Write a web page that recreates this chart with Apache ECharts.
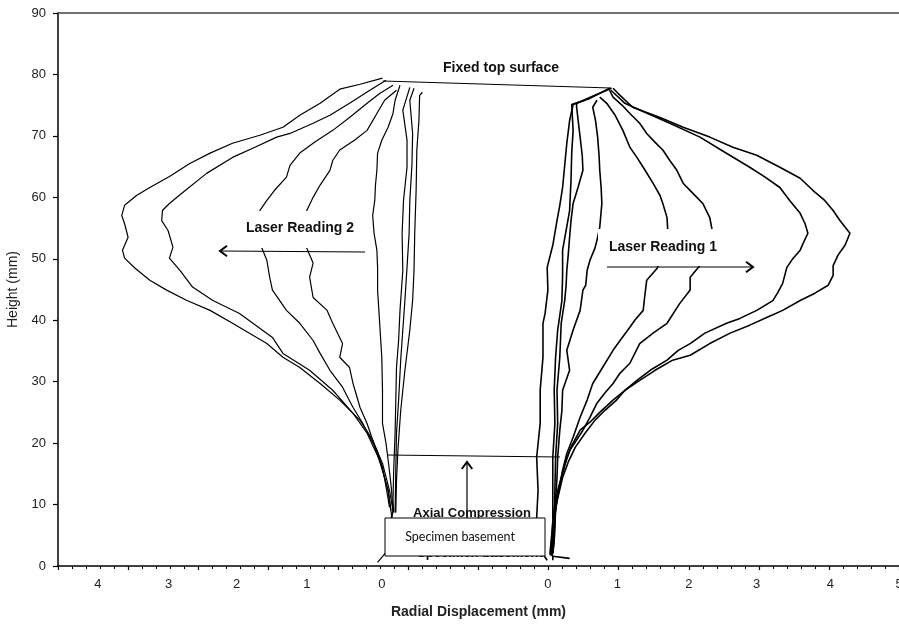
<!DOCTYPE html>
<html>
<head>
<meta charset="utf-8">
<script src="https://cdn.jsdelivr.net/npm/echarts@6/dist/echarts.min.js"></script>
<style>html,body{margin:0;padding:0;background:#fff}#chart{width:899px;height:626px}</style>
</head>
<body>
<div id="chart"></div>
<script>
// ---- Data: [radial displacement (mm), height (mm)] ----
// Laser Reading 2 (left side, displacement grows to the left)
const reading2Curve1 = [[-0.01,79.4],[0.31,78.4],[0.6,77.6],[0.88,75.3],[1.17,73.35],[1.41,71.4],[1.74,70.1],[2.13,68.8],[2.45,67.2],[2.74,65.5],[3.03,63.4],[3.31,61.6],[3.5,60.3],[3.67,58.7],[3.71,57.05],[3.67,55.7],[3.62,53.5],[3.7,51.4],[3.67,50.1],[3.52,48.45],[3.31,46.5],[3.07,44.9],[2.78,43.2],[2.45,41.6],[2.13,39.5],[1.64,36.2],[1.41,33.97],[1.17,32.3],[0.88,29.7],[0.6,27.0],[0.31,23.7],[0.13,20.5],[-0.01,16.7],[-0.11,12.3],[-0.16,9.06],[-0.14,7.4]];
const reading2Curve2 = [[-0.06,79.05],[0.17,77.43],[0.46,75.3],[0.74,73.35],[0.98,72.05],[1.31,70.4],[1.5,69.8],[1.81,68.15],[2.13,66.5],[2.5,63.9],[2.84,60.8],[3.03,59.0],[3.13,57.85],[3.14,56.2],[3.05,54.6],[2.98,51.9],[3.03,50.1],[2.88,48.1],[2.7,45.4],[2.41,43.2],[2.03,41.1],[1.56,37.2],[1.41,34.6],[1.03,31.85],[0.7,28.6],[0.41,24.85],[0.21,21.6],[0.03,17.2],[-0.09,12.3],[-0.14,8.25],[-0.06,2.2],[0.06,0.6]];
const reading2Curve3 = [[-0.16,78.24],[0.03,76.9],[0.21,75.3],[0.46,73.0],[0.7,70.9],[0.96,68.95],[1.17,67.2],[1.31,65.2],[1.36,63.3],[1.53,61.15],[1.64,59.5],[1.74,57.85],[1.77,54.9],[1.71,51.7],[1.64,49.75],[1.6,47.0],[1.56,44.9],[1.36,41.6],[1.17,39.5],[0.98,36.7],[0.88,34.6],[0.74,31.85],[0.56,29.1],[0.41,25.8],[0.27,23.2],[0.17,20.95],[0.07,18.8],[-0.01,16.1],[-0.07,12.3],[-0.11,9.55]];
const reading2Curve4 = [[-0.21,77.43],[-0.04,75.8],[0.07,73.65],[0.21,70.9],[0.39,69.3],[0.6,67.7],[0.7,66.0],[0.74,64.4],[0.88,62.0],[0.98,60.0],[1.07,57.85],[1.1,54.6],[1.07,51.7],[0.98,49.3],[1.03,47.0],[0.98,43.7],[0.78,41.6],[0.7,39.5],[0.56,36.2],[0.6,33.97],[0.46,32.3],[0.41,29.7],[0.31,25.8],[0.21,23.2],[0.13,20.5],[0.06,18.0],[-0.01,15.6],[-0.09,12.3],[-0.13,9.06]];
const reading2Curve5 = [[-0.26,78.24],[-0.19,75.8],[-0.16,73.65],[-0.09,71.4],[0.0,69.3],[0.06,67.2],[0.07,64.4],[0.09,62.0],[0.1,59.5],[0.13,57.05],[0.11,54.15],[0.07,51.4],[0.06,48.6],[0.06,44.9],[0.03,39.5],[0.0,33.97],[-0.01,28.6],[-0.01,23.2],[-0.06,20.0],[-0.1,16.4],[-0.14,12.3],[-0.16,8.7]];
const reading2Curve6 = [[-0.4,77.9],[-0.3,74.2],[-0.36,69.3],[-0.36,64.9],[-0.31,59.5],[-0.29,54.15],[-0.3,48.1],[-0.26,41.6],[-0.24,36.7],[-0.21,32.3],[-0.2,27.0],[-0.19,21.6],[-0.17,15.6],[-0.16,10.7],[-0.17,8.7]];
const reading2Curve7 = [[-0.46,77.75],[-0.4,75.8],[-0.44,70.4],[-0.43,65.2],[-0.4,59.5],[-0.39,54.15],[-0.36,48.6],[-0.33,43.2],[-0.3,38.4],[-0.27,33.5],[-0.24,27.0],[-0.21,21.6],[-0.2,15.6],[-0.19,8.7]];
const reading2Curve8 = [[-0.58,77.1],[-0.54,76.6],[-0.53,72.5],[-0.5,67.7],[-0.49,61.15],[-0.47,54.15],[-0.46,48.1],[-0.44,43.2],[-0.4,38.4],[-0.33,31.85],[-0.27,25.3],[-0.23,18.8],[-0.21,13.95],[-0.2,8.7]];

// Laser Reading 1 (right side, displacement grows to the right)
const reading1Curve1 = [[0.93,77.75],[1.03,76.6],[1.21,74.66],[1.6,73.0],[1.93,71.4],[2.31,69.8],[2.64,68.15],[2.98,66.85],[3.31,64.9],[3.6,63.1],[3.78,61.15],[3.95,59.5],[4.07,57.85],[4.17,56.2],[4.31,54.15],[4.24,52.2],[4.14,50.6],[4.07,48.9],[4.07,47.3],[4.0,45.7],[3.81,44.4],[3.6,43.2],[3.35,41.6],[3.13,40.5],[2.88,39.2],[2.6,37.9],[2.31,36.2],[2.03,34.3],[1.78,33.5],[1.53,31.85],[1.31,30.2],[1.1,28.6],[0.93,27.0],[0.74,25.0],[0.6,23.4],[0.46,22.1],[0.34,19.6],[0.26,17.2],[0.2,14.8],[0.14,12.3],[0.1,9.9],[0.07,7.4],[0.06,4.99],[0.04,2.55],[0.07,1.58],[0.31,1.24]];
const reading1Curve2 = [[0.9,77.43],[1.1,75.3],[1.31,74.2],[1.74,72.05],[2.17,69.8],[2.53,67.3],[2.88,64.9],[3.1,63.3],[3.31,61.6],[3.45,59.5],[3.6,57.4],[3.67,55.7],[3.71,54.15],[3.65,52.7],[3.6,51.4],[3.5,50.1],[3.41,48.6],[3.38,47.3],[3.35,46.0],[3.28,44.5],[3.21,43.2],[2.98,41.6],[2.74,40.3],[2.55,39.5],[2.24,37.9],[2.03,36.2],[1.86,35.1],[1.7,33.5],[1.46,31.85],[1.27,30.2],[1.1,28.6],[0.98,27.0],[0.81,25.3],[0.67,23.7],[0.53,21.6],[0.39,19.3],[0.29,16.9],[0.21,14.4],[0.16,12.0],[0.11,9.55],[0.1,7.4],[0.07,4.99],[0.06,2.55],[0.03,1.74]];
const reading1Curve3 = [[0.88,77.43],[0.93,76.3],[1.06,74.98],[1.17,73.65],[1.31,72.05],[1.41,70.4],[1.53,68.95],[1.64,67.7],[1.74,66.0],[1.84,64.4],[1.93,62.3],[2.07,60.65],[2.21,59.0],[2.31,56.7],[2.34,54.9],[2.24,51.4],[2.17,48.9],[2.03,47.0],[2.03,44.9],[1.88,42.7],[1.7,39.5],[1.5,37.9],[1.31,36.2],[1.17,33.0],[1.03,31.4],[0.93,29.7],[0.81,28.1],[0.7,26.5],[0.6,24.2],[0.5,22.1],[0.41,20.5],[0.31,18.8],[0.24,16.4],[0.19,13.95],[0.14,11.5],[0.11,9.06],[0.1,6.6],[0.09,4.2],[0.07,2.05]];
const reading1Curve4 = [[0.74,76.3],[0.84,75.3],[0.96,73.35],[1.07,70.9],[1.17,68.15],[1.27,66.5],[1.36,64.9],[1.5,62.3],[1.6,60.3],[1.64,59.0],[1.7,56.7],[1.71,54.6],[1.63,50.6],[1.56,48.45],[1.41,46.5],[1.38,43.7],[1.36,41.6],[1.24,40.0],[1.17,38.85],[1.03,36.7],[0.93,35.1],[0.78,32.3],[0.64,29.7],[0.56,27.0],[0.46,24.2],[0.36,20.95],[0.27,18.3],[0.21,15.6],[0.17,13.1],[0.13,10.7],[0.1,8.25],[0.09,5.8],[0.07,3.4],[0.06,1.74]];
const reading1Curve5 = [[0.7,75.8],[0.64,74.66],[0.68,72.5],[0.71,69.8],[0.73,66.85],[0.74,64.4],[0.76,61.6],[0.77,59.0],[0.74,55.1],[0.7,53.0],[0.67,51.7],[0.6,49.75],[0.56,48.1],[0.54,45.7],[0.5,44.9],[0.46,41.6],[0.36,38.4],[0.27,35.1],[0.31,31.85],[0.21,28.6],[0.2,25.3],[0.17,22.1],[0.14,17.7],[0.13,14.4],[0.11,10.7],[0.1,7.4],[0.09,4.2],[0.07,2.05]];
const reading1Curve6 = [[0.91,77.75],[0.67,76.6],[0.41,75.3],[0.41,74.66],[0.46,69.8],[0.49,66.85],[0.5,64.4],[0.43,61.6],[0.36,59.0],[0.33,56.2],[0.31,53.5],[0.29,50.6],[0.27,48.1],[0.26,45.7],[0.24,43.2],[0.19,39.5],[0.17,33.97],[0.13,28.6],[0.14,23.2],[0.11,17.7],[0.1,12.3],[0.09,6.9],[0.04,2.55]];
const reading1Curve7 = [[0.88,77.75],[0.6,76.1],[0.34,75.1],[0.36,70.9],[0.34,67.2],[0.33,62.8],[0.31,57.85],[0.26,54.6],[0.21,51.4],[0.21,47.3],[0.2,43.2],[0.14,38.4],[0.11,33.97],[0.09,28.6],[0.1,23.2],[0.07,17.7],[0.07,12.3],[0.07,6.9],[0.03,2.05],[0.07,1.58],[0.07,0.93]];
const reading1Curve8 = [[0.53,75.8],[0.36,75.1],[0.31,72.5],[0.27,68.8],[0.24,65.2],[0.21,61.6],[0.17,58.7],[0.13,56.2],[0.07,52.2],[-0.01,48.6],[0.0,44.9],[-0.04,41.1],[-0.07,39.5],[-0.07,33.97],[-0.11,28.6],[-0.11,23.2],[-0.16,17.7],[-0.14,12.3],[-0.16,7.9],[-0.11,2.55],[-0.01,0.93]];

// Tick labels of the split displacement axis
const tickLabels = ['4', '3', '2', '1', '0', '0', '1', '2', '3', '4', '5'];

// ---- Layout (axis units) ----
const LEFT_ZERO = 4.62;   // axis position of left "0"
const RIGHT_ZERO = 6.99;  // axis position of right "0"
const tickLabelPos = [0.57, 1.58, 2.55, 3.55, 4.62, 6.99, 7.98, 9.0, 9.97, 11.02, 12.0];

const leftCurves = [reading2Curve1, reading2Curve2, reading2Curve3, reading2Curve4, reading2Curve5, reading2Curve6, reading2Curve7, reading2Curve8];
const rightCurves = [reading1Curve1, reading1Curve2, reading1Curve3, reading1Curve4, reading1Curve5, reading1Curve6, reading1Curve7, reading1Curve8];

const series = [];
leftCurves.forEach((c, i) => series.push({
  name: 'Laser Reading 2 #' + (i + 1), type: 'line', showSymbol: false, silent: true,
  data: c.map(p => [LEFT_ZERO - p[0], p[1]]),
  lineStyle: { color: '#000', width: 1.2 }
}));
rightCurves.forEach((c, i) => series.push({
  name: 'Laser Reading 1 #' + (i + 1), type: 'line', showSymbol: false, silent: true,
  data: c.map(p => [RIGHT_ZERO + p[0], p[1]]),
  lineStyle: { color: '#000', width: 1.6 }
}));

const chart = echarts.init(document.getElementById('chart'), null, { renderer: 'canvas' });
const boldFont = 'bold 14px "Liberation Sans", Arial, sans-serif';
const boldFont13 = 'bold 13px "Liberation Sans", Arial, sans-serif';

function arrowHead(x, y, dir) { // dir: 'left' | 'right' | 'up'
  const s = 7;
  let pts;
  if (dir === 'left') pts = [[x + s, y - s * 0.75], [x, y], [x + s, y + s * 0.75]];
  else if (dir === 'right') pts = [[x - s, y - s * 0.75], [x, y], [x - s, y + s * 0.75]];
  else pts = [[x - s * 0.75, y + s], [x, y], [x + s * 0.75, y + s]];
  return { type: 'polyline', z: 60, shape: { points: pts }, style: { stroke: '#000', lineWidth: 2, fill: null } };
}

chart.setOption({
  animation: false,
  backgroundColor: '#fff',
  grid: { left: 58, right: 0, top: 13, bottom: 60, containLabel: false, outerBoundsMode: 'none' },
  xAxis: [{
    type: 'value', min: 0, max: 12, interval: 1, position: 'bottom',
    name: 'Radial Displacement (mm)', nameLocation: 'middle', nameGap: 39,
    nameTextStyle: { fontFamily: '"Liberation Sans", Arial', fontSize: 14, fontWeight: 'bold', color: '#222' },
    axisLine: { show: true, onZero: false, lineStyle: { color: '#000', width: 1.5 } },
    axisTick: { show: true, length: 4, inside: false, lineStyle: { color: '#000', width: 1.2 } },
    minorTick: { show: true, splitNumber: 5, length: 3, lineStyle: { color: '#000', width: 1 } },
    splitLine: { show: false },
    axisLabel: {
      show: true, margin: 12, fontSize: 13, color: '#222', fontFamily: '"Liberation Sans", Arial',
      customValues: tickLabelPos,
      formatter: function (v) {
        const i = tickLabelPos.findIndex(p => Math.abs(p - v) < 1e-6);
        return i >= 0 ? tickLabels[i] : '';
      }
    }
  }, {
    type: 'value', min: 0, max: 12, position: 'top',
    axisLine: { show: true, onZero: false, lineStyle: { color: '#444', width: 1.5 } },
    axisTick: { show: false }, axisLabel: { show: false }, splitLine: { show: false }
  }],
  yAxis: {
    type: 'value', min: 0, max: 90, interval: 10,
    name: 'Height (mm)', nameLocation: 'middle', nameGap: 33,
    nameTextStyle: { fontFamily: '"Liberation Sans", Arial', fontSize: 14, color: '#222' },
    axisLine: { show: true, onZero: false, lineStyle: { color: '#000', width: 1.5 } },
    axisTick: { show: true, length: 5, lineStyle: { color: '#000', width: 1.2 } },
    splitLine: { show: false },
    axisLabel: { fontSize: 13, color: '#222', margin: 12, fontFamily: '"Liberation Sans", Arial' }
  },
  series: series,
  graphic: { elements: [
    // Fixed top surface
    { type: 'line', z: 60, shape: { x1: 383, y1: 81, x2: 611, y2: 88 }, style: { stroke: '#000', lineWidth: 1 } },
    { type: 'text', z: 61, x: 501, y: 68, style: { text: 'Fixed top surface', font: boldFont, fill: '#111', align: 'center', verticalAlign: 'middle' } },
    // Laser Reading 2
    { type: 'rect', z: 55, shape: { x: 238, y: 211, width: 124, height: 37 }, style: { fill: '#fff', stroke: null } },
    { type: 'text', z: 61, x: 300, y: 228, style: { text: 'Laser Reading 2', font: boldFont, fill: '#111', align: 'center', verticalAlign: 'middle' } },
    { type: 'line', z: 60, shape: { x1: 365, y1: 252, x2: 221, y2: 251 }, style: { stroke: '#000', lineWidth: 1.2 } },
    arrowHead(220, 251, 'left'),
    // Laser Reading 1
    { type: 'rect', z: 55, shape: { x: 598, y: 229, width: 124, height: 37 }, style: { fill: '#fff', stroke: null } },
    { type: 'text', z: 61, x: 663, y: 247, style: { text: 'Laser Reading 1', font: boldFont, fill: '#111', align: 'center', verticalAlign: 'middle' } },
    { type: 'line', z: 60, shape: { x1: 607, y1: 267, x2: 752, y2: 267 }, style: { stroke: '#000', lineWidth: 1.2 } },
    arrowHead(753, 267, 'right'),
    // Axial compression
    { type: 'line', z: 60, shape: { x1: 387, y1: 455, x2: 560, y2: 457 }, style: { stroke: '#000', lineWidth: 1 } },
    { type: 'line', z: 60, shape: { x1: 467, y1: 518, x2: 467, y2: 463 }, style: { stroke: '#000', lineWidth: 1.2 } },
    arrowHead(467, 462, 'up'),
    { type: 'text', z: 61, x: 472, y: 513, style: { text: 'Axial Compression', font: boldFont13, fill: '#111', align: 'center', verticalAlign: 'middle' } },
    { type: 'text', z: 61, x: 480, y: 553, style: { text: 'Specimen basement', font: boldFont13, fill: '#111', align: 'center', verticalAlign: 'middle' } },
    { type: 'rect', z: 65, shape: { x: 385, y: 518, width: 160, height: 38 }, style: { fill: '#fff', stroke: '#000', lineWidth: 1 } },
    { type: 'text', z: 66, x: 460, y: 537, style: { text: 'Specimen basement', font: '12.5px Lato, "Open Sans", sans-serif', fill: '#111', align: 'center', verticalAlign: 'middle' } }
  ] }
});
</script>
</body>
</html>
